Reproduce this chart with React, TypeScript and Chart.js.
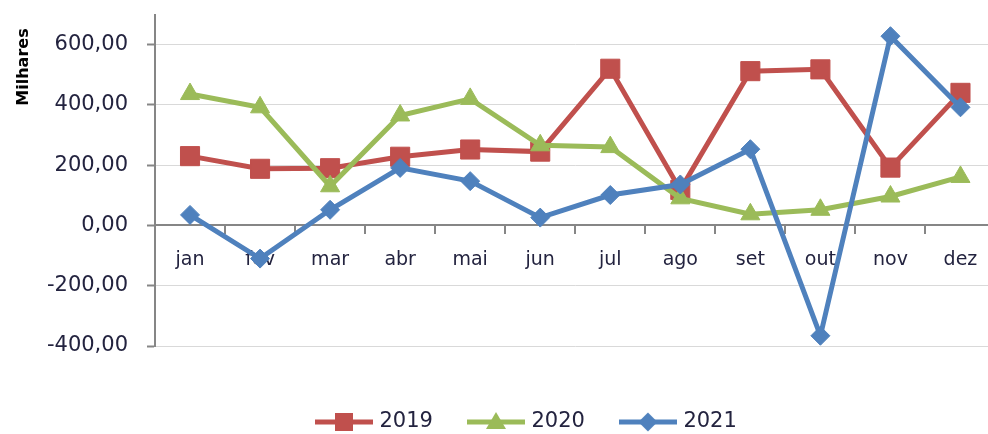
import React, { useEffect, useRef } from 'react';
import { Chart, registerables } from 'chart.js';

Chart.register(...registerables);

const months = ['jan', 'fev', 'mar', 'abr', 'mai', 'jun', 'jul', 'ago', 'set', 'out', 'nov', 'dez'];
const seriesNames = ['2019', '2020', '2021'];
const s2019 = [230, 188, 190, 228, 252, 245, 520, 118, 512, 518, 192, 440];
const s2020 = [436, 392, 130, 365, 420, 266, 260, 90, 37, 52, 96, 161];
const s2021 = [35, -110, 52, 191, 147, 26, 101, 136, 253, -366, 628, 392];
const yMin = -400;
const yMax = 700;
const yStep = 200;
const yTitle = 'Milhares';

const RED = '#C0504D';
const GREEN = '#9BBB59';
const BLUE = '#4F81BD';
const TEXT = '#23233f';
const AXIS = '#868686';
const GRID = '#d9d9d9';

function formatTick(v: number): string {
  return Number(v).toFixed(2).replace('.', ',');
}

function legendImage(color: string, shape: string): HTMLCanvasElement {
  const c = document.createElement('canvas');
  c.width = 58;
  c.height = 24;
  const g = c.getContext('2d') as CanvasRenderingContext2D;
  g.strokeStyle = color;
  g.lineWidth = 5;
  g.beginPath();
  g.moveTo(0, 12);
  g.lineTo(58, 12);
  g.stroke();
  g.fillStyle = color;
  g.beginPath();
  if (shape === 'rect') {
    g.rect(20, 3, 18, 18);
  } else if (shape === 'triangle') {
    g.moveTo(29, 2);
    g.lineTo(39, 19);
    g.lineTo(19, 19);
    g.closePath();
  } else {
    g.moveTo(29, 2.5);
    g.lineTo(38.5, 12);
    g.lineTo(29, 21.5);
    g.lineTo(19.5, 12);
    g.closePath();
  }
  g.fill();
  return c;
}

const yTitlePlugin = {
  id: 'yTitlePlugin',
  afterDraw(chart: any) {
    const ctx = chart.ctx;
    ctx.save();
    ctx.translate(24, 67);
    ctx.rotate(-Math.PI / 2);
    ctx.font = 'bold 16px "DejaVu Sans"';
    ctx.fillStyle = '#000';
    ctx.textAlign = 'center';
    ctx.textBaseline = 'middle';
    ctx.fillText(yTitle, 0, 0);
    ctx.restore();
  },
};

const legendPosPlugin = {
  id: 'legendPosPlugin',
  beforeDraw(chart: any) {
    const lg = chart.legend;
    if (!lg) return;
    const dx = 281 - lg.left;
    lg.left += dx;
    lg.right += dx;
    const dy = 373.5 - lg.top;
    lg.top += dy;
    lg.bottom += dy;
  },
};

export default function App() {
  const ref = useRef<HTMLCanvasElement>(null);

  useEffect(() => {
    if (!ref.current) return;
    Chart.defaults.font.family = '"DejaVu Sans", Verdana, sans-serif';
    const images = [legendImage(RED, 'rect'), legendImage(GREEN, 'triangle'), legendImage(BLUE, 'diamond')];
    const chart = new Chart(ref.current, {
      type: 'line',
      data: {
        labels: months,
        datasets: [
          {
            label: seriesNames[0],
            data: s2019,
            borderColor: RED,
            backgroundColor: RED,
            pointBackgroundColor: RED,
            pointBorderColor: RED,
            pointStyle: 'rect',
            pointRadius: 13.5,
            pointHoverRadius: 13.5,
            pointBorderWidth: 1,
            borderWidth: 5,
            tension: 0,
            order: 2,
          },
          {
            label: seriesNames[1],
            data: s2020,
            borderColor: GREEN,
            backgroundColor: GREEN,
            pointBackgroundColor: GREEN,
            pointBorderColor: GREEN,
            pointStyle: 'triangle',
            pointRadius: 11,
            pointHoverRadius: 11,
            pointBorderWidth: 1,
            borderWidth: 5,
            tension: 0,
            order: 1,
          },
          {
            label: seriesNames[2],
            data: s2021,
            borderColor: BLUE,
            backgroundColor: BLUE,
            pointBackgroundColor: BLUE,
            pointBorderColor: BLUE,
            pointStyle: 'rectRot',
            pointRadius: 9.5,
            pointHoverRadius: 9.5,
            pointBorderWidth: 1,
            borderWidth: 5,
            tension: 0,
            order: 0,
          },
        ],
      },
      options: {
        animation: false,
        responsive: true,
        maintainAspectRatio: false,
        events: [],
        layout: { padding: { left: 0, right: 8, top: 11, bottom: 19 } },
        scales: {
          x: {
            type: 'category',
            position: { y: 0 } as any,
            offset: true,
            grid: {
              offset: true,
              drawOnChartArea: false,
              drawTicks: true,
              tickLength: 8,
              color: AXIS,
              lineWidth: 2,
            },
            border: { display: true, color: AXIS, width: 2 },
            ticks: {
              padding: 15,
              color: TEXT,
              font: { size: 19 },
              maxRotation: 0,
              autoSkip: false,
            },
          },
          y: {
            type: 'linear',
            min: yMin,
            max: yMax,
            afterBuildTicks: (s: any) => {
              s.ticks = s.ticks.filter((t: any) => t.value !== yMax);
            },
            afterFit: (s: any) => {
              s.width = 155;
              s.paddingTop = 0;
              s.paddingBottom = 0;
            },
            ticks: {
              stepSize: yStep,
              padding: 19,
              color: TEXT,
              font: { size: 21 },
              callback: (v: any) => formatTick(v),
            },
            grid: {
              color: GRID,
              lineWidth: 1,
              tickColor: AXIS,
              tickLength: 8,
              tickWidth: 2,
            },
            border: { display: true, color: AXIS, width: 2 },
          },
        },
        plugins: {
          title: { display: false },
          tooltip: { enabled: false },
          legend: {
            display: true,
            position: 'bottom',
            align: 'start',
            labels: {
              usePointStyle: true,
              pointStyleWidth: 50,
              padding: 38,
              color: TEXT,
              font: { size: 21 },
              generateLabels: (ch: any) => {
                const base = Chart.defaults.plugins.legend.labels.generateLabels(ch);
                return base
                  .slice()
                  .sort((a: any, b: any) => a.datasetIndex - b.datasetIndex)
                  .map((item: any) => ({ ...item, pointStyle: images[item.datasetIndex] }));
              },
            },
          },
        },
      },
      plugins: [yTitlePlugin, legendPosPlugin],
    } as any);
    return () => chart.destroy();
  }, []);

  return (
    <div
      style={{
        position: 'absolute',
        left: 0,
        top: 0,
        width: 988,
        height: 434,
        overflow: 'hidden',
        background: '#fff',
      }}
    >
      <div style={{ position: 'relative', width: 1010, height: 434 }}>
        <canvas ref={ref} />
      </div>
    </div>
  );
}
